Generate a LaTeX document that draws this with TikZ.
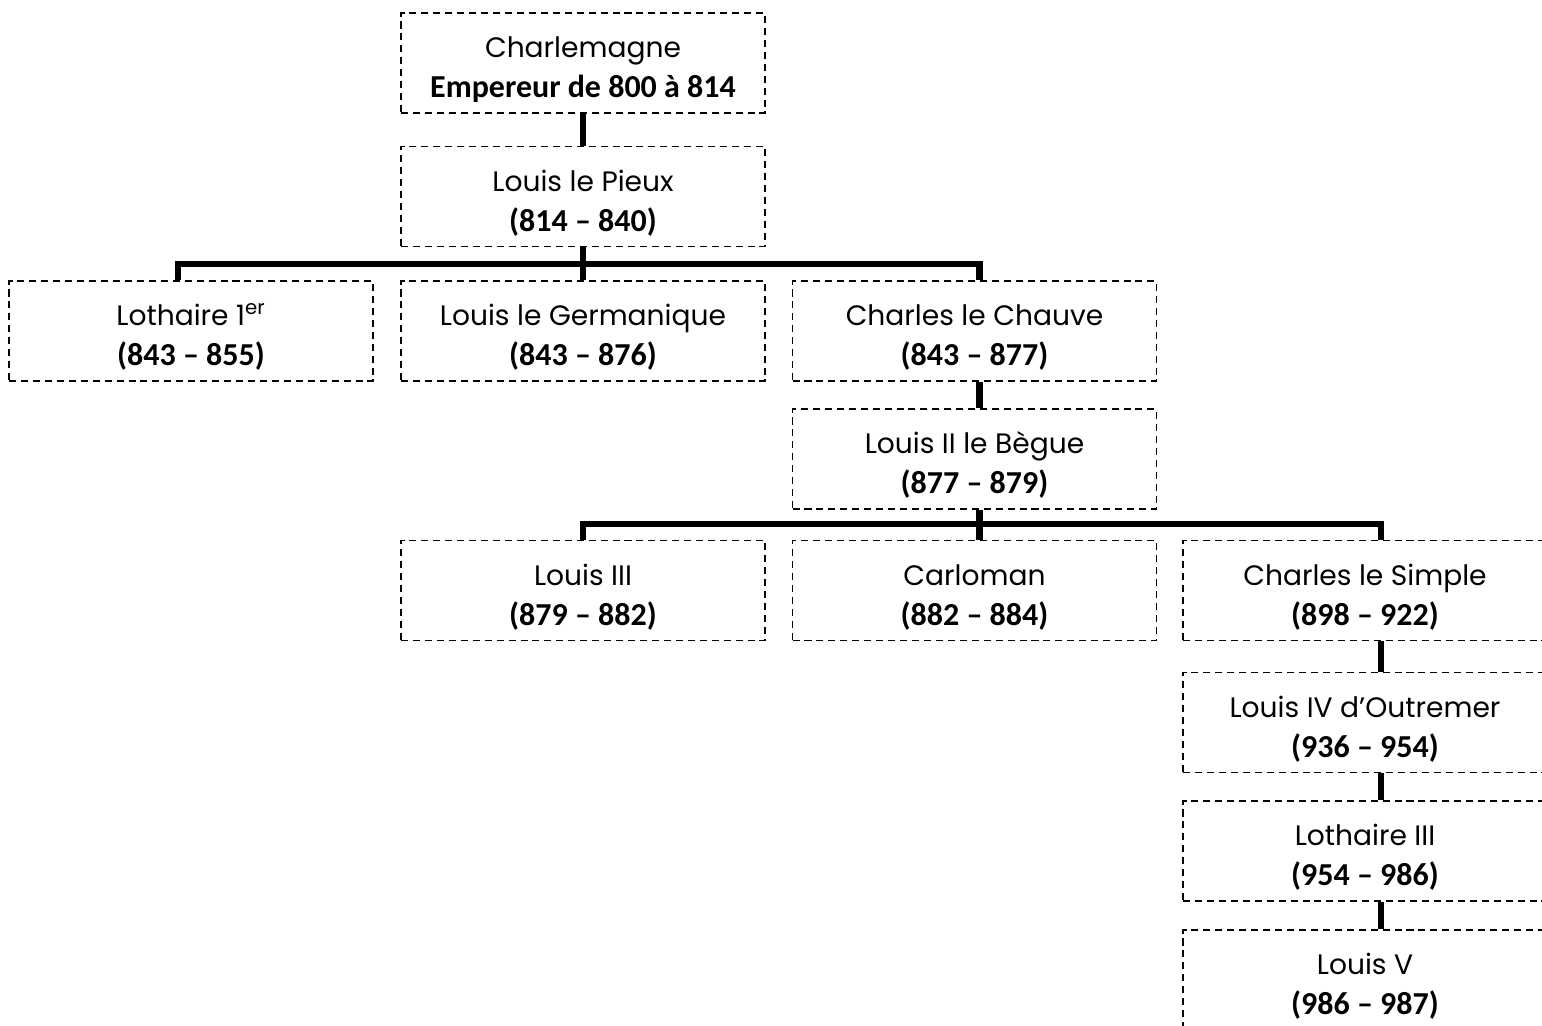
\documentclass[tikz,border=0pt]{standalone}
\usepackage{fontspec}
\setmainfont{Poppins}
\newfontfamily\yearfont{Carlito}
\usetikzlibrary{positioning,calc}
\newcommand{\king}[2]{\rule{0pt}{19.5pt}#1\\{\yearfont\bfseries\fontsize{18.2}{23}\selectfont #2}}

\begin{document}
\begin{tikzpicture}
[x=0.02cm,y=-0.02cm,
person/.style={draw=black,dash pattern=on 4pt off 2.8pt,line width=.8pt,
  minimum width=7.28cm,minimum height=2cm,inner sep=0pt,align=center,
  font=\fontsize{16}{23}\selectfont},
link/.style={line width=3.8pt}]
\clip (0,0) rectangle (1542,1025);
%%
% Charlemagne and his son
%%
\node[person] (charlemagne) at (583,63) {\king{Charlemagne}{Empereur de 800 à 814}};
\node[person] (pieux) at (583,196.5) {\king{Louis le Pieux}{(814 – 840)}};
\draw[link] (charlemagne.south) -- (pieux.north);
%%
% the three brothers
%%
\node[person] (lothaire) at (191,331) {\king{Lothaire 1\textsuperscript{er}}{(843 – 855)}};
\node[person] (germanique) at (583,331) {\king{Louis le Germanique}{(843 – 876)}};
\node[person] (chauve) at (974.5,331) {\king{Charles le Chauve}{(843 – 877)}};
\coordinate (bar1) at (0,264);
\draw[link] (pieux.south) -- (pieux.south|-bar1);
\draw[link] ([xshift=-.26cm]lothaire.north) |- ([xshift=.1cm]chauve.north|-bar1) -- ([xshift=.1cm]chauve.north);
\draw[link] (germanique.north) -- (germanique.north|-bar1);
%%
% Louis II and his sons
%%
\node[person] (begue) at (974.5,459) {\king{Louis II le Bègue}{(877 – 879)}};
\draw[link] ([xshift=.1cm]chauve.south) -- ([xshift=.1cm]begue.north);
\node[person] (louistrois) at (583,590.5) {\king{Louis III}{(879 – 882)}};
\node[person] (carloman) at (974.5,590.5) {\king{Carloman}{(882 – 884)}};
\node[person] (simple) at (1365,590.5) {\king{Charles le Simple}{(898 – 922)}};
\coordinate (bar2) at (0,524);
\draw[link] ([xshift=.1cm]begue.south) -- ([xshift=.1cm]begue.south|-bar2);
\draw[link] (louistrois.north) |- ([xshift=.32cm]simple.north|-bar2) -- ([xshift=.32cm]simple.north);
\draw[link] ([xshift=.1cm]carloman.north) -- ([xshift=.1cm]carloman.north|-bar2);
%%
% the last ones
%%
\node[person] (outremer) at (1365,722.5) {\king{Louis IV d’Outremer}{(936 – 954)}};
\node[person] (lothairetrois) at (1365,851) {\king{Lothaire III}{(954 – 986)}};
\node[person] (louiscinq) at (1365,980) {\king{Louis V}{(986 – 987)}};
\draw[link] ([xshift=.32cm]simple.south) -- ([xshift=.32cm]outremer.north);
\draw[link] ([xshift=.32cm]outremer.south) -- ([xshift=.32cm]lothairetrois.north);
\draw[link] ([xshift=.32cm]lothairetrois.south) -- ([xshift=.32cm]louiscinq.north);
\end{tikzpicture}
\end{document}
